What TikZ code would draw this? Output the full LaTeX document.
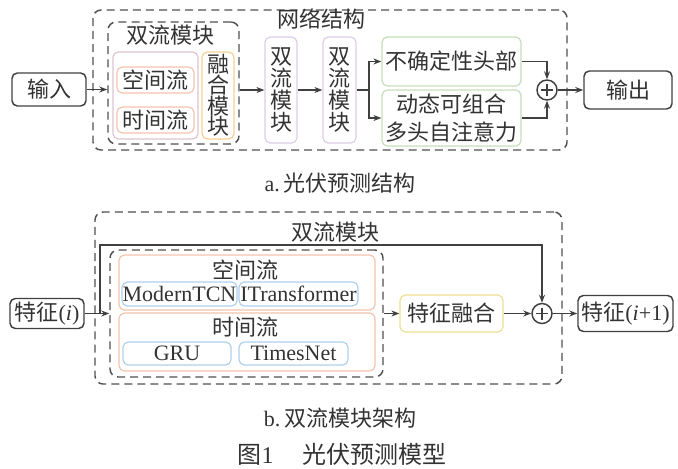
\documentclass[tikz,border=0pt]{standalone}
\usepackage{fontspec}
\setmainfont{Liberation Serif}
\newfontfamily\cjk{Noto Sans CJK SC}
\usetikzlibrary{arrows.meta,calc}
\definecolor{txt}{HTML}{333333}
\definecolor{dk}{HTML}{404040}
\definecolor{dsh}{HTML}{505050}
\definecolor{pinkc}{HTML}{DEC3D0}
\definecolor{orc}{HTML}{F2C4AC}
\definecolor{fusc}{HTML}{F5CF92}
\definecolor{lavc}{HTML}{DCCDE6}
\definecolor{grc}{HTML}{C6DDBA}
\definecolor{blc}{HTML}{AFD0EC}
\definecolor{yec}{HTML}{EEDF92}
\newcommand\fsz{\fontsize{16.5}{19}\selectfont}
\newcommand\fszv{\fontsize{16.5}{16.5}\selectfont}
\begin{document}
\begin{tikzpicture}[x=0.75pt,y=-0.75pt,
  sz/.style 2 args={minimum width=#1*0.75pt, minimum height=#2*0.75pt},
  box/.style={draw, rounded corners=4pt, line width=0.9pt, inner sep=0pt, align=center, text=txt, font=\fsz\cjk},
  darkbox/.style={box, draw=dk, line width=1.1pt},
  vbox/.style={box, font=\fszv\cjk},
  latin/.style={box, font=\fsz\rmfamily},
  dashbox/.style={draw=dsh, dash pattern=on 6pt off 3.8pt, line width=1.1pt, rounded corners=6pt, inner sep=0pt},
  lbl/.style={text=txt, font=\fsz\cjk, inner sep=0pt},
  arr/.style={draw=dk, line width=0.9pt, -{Stealth[length=6pt,width=4.5pt]}},
  ln/.style={draw=dk, line width=0.9pt},
  plus/.style={circle, draw=dk, line width=1.1pt, minimum size=20*0.75pt, inner sep=0pt}
]
\useasboundingbox (0,0) rectangle (678,468);

% ---------- part a ----------
\node[dashbox, sz={474}{140}] (outerA) at (330,80) {};
\node[lbl] (titleA) at (321,19) {网络结构};
\node[dashbox, sz={131}{122}] (innerA) at (173.5,83) {};
\node[lbl] (titleInA) at (170,35) {双流模块};
\node[box, draw=pinkc, sz={85}{87}] (pink) at (155.5,95.5) {};
\node[box, draw=orc, sz={77}{26}] (kj) at (155.5,80) {空间流};
\node[box, draw=orc, sz={77}{26}] (sj) at (155.5,120) {时间流};
\node[vbox, draw=fusc, sz={32}{87}, font=\fontsize{16.5}{15.5}\selectfont\cjk] (rh) at (218,95.5) {融\\合\\模\\块};
\node[vbox, draw=lavc, sz={32}{106}] (b1) at (281,90) {双\\流\\模\\块};
\node[vbox, draw=lavc, sz={33}{106}] (b2) at (339.5,90) {双\\流\\模\\块};
\node[box, draw=grc, sz={139}{49}] (bq) at (451.5,61.5) {不确定性头部};
\node[box, draw=grc, sz={139}{56}, font=\fontsize{16.5}{21}\selectfont\cjk] (dt) at (451.5,118) {动态可组合\\多头自注意力};
\node[plus] (p1) at (547,90) {};
\draw[dk, line width=0.8pt] ($(p1.center)+(-6,0)$) -- ($(p1.center)+(6,0)$);
\draw[dk, line width=0.8pt] ($(p1.center)+(0,-6)$) -- ($(p1.center)+(0,6)$);
\node[darkbox, sz={74}{33}] (in) at (49,89.5) {输入};
\node[darkbox, sz={88}{38}] (out) at (628,90) {输出};
\coordinate (brA) at (369,90);

\draw[arr] (in.east) -- (in.east -| innerA.west);
\draw[arr] (innerA.east |- b1.west) -- (b1.west);
\draw[arr] (b1.east) -- (b2.west);
\draw[ln] (b2.east) -- (brA);
\draw[arr] (brA) |- (bq.west);
\draw[arr] (brA) |- (dt.west);
\draw[arr] (bq.east) -| (p1.north);
\draw[arr] (dt.east) -| (p1.south);
\draw[arr] (p1.east) -- (out.west);

\node[lbl] (capA) at (340,183) {\rmfamily a.\,\cjk 光伏预测结构};

% ---------- part b ----------
\node[dashbox, sz={467}{172}] (outerB) at (328.5,298) {};
\node[lbl] (titleB) at (335,232) {双流模块};
\node[dashbox, sz={273}{127}] (innerB) at (246.5,313.5) {};
\node[box, draw=orc, sz={256}{55}] (kjB) at (247,282.5) {};
\node[lbl] (kjL) at (245,270) {空间流};
\node[latin, draw=blc, sz={115}{24}] (mtcn) at (179.5,294) {ModernTCN};
\node[latin, draw=blc, sz={119}{24}] (itr) at (298.5,294) {ITransformer};
\node[box, draw=orc, sz={256}{58}] (sjB) at (247,342) {};
\node[lbl] (sjL) at (245,327) {时间流};
\node[latin, draw=blc, sz={108}{23}] (gru) at (177,353.5) {GRU};
\node[latin, draw=blc, sz={109}{23}] (tn) at (293.5,353.5) {TimesNet};
\node[box, draw=yec, sz={103}{37}] (fuse) at (451.5,313.5) {特征融合};
\node[plus] (p2) at (542,313.5) {};
\draw[dk, line width=0.8pt] ($(p2.center)+(-6,0)$) -- ($(p2.center)+(6,0)$);
\draw[dk, line width=0.8pt] ($(p2.center)+(0,-6)$) -- ($(p2.center)+(0,6)$);
\node[darkbox, sz={74}{30}] (fi) at (47,313.5) {特征\rmfamily(\textit{i})};
\node[darkbox, sz={95}{36}] (fo) at (625.5,313.5) {特征\rmfamily(\textit{i}+1)};
\coordinate (sk) at (100,245);

\draw[arr] (fi.east) -- (fi.east -| innerB.west);
\draw[arr] (fi.east) -| (sk) -| (p2.north);
\draw[arr] (innerB.east |- fuse.west) -- (fuse.west);
\draw[arr] (fuse.east) -- (p2.west);
\draw[arr] (p2.east) -- (fo.west);

\node[lbl] (capB) at (340,418) {\rmfamily b.\,\cjk 双流模块架构};
\node[lbl, font=\fontsize{18}{20}\selectfont\cjk] (fig) at (342,454) {图\rmfamily 1\hspace{1.2em}\cjk 光伏预测模型};
\end{tikzpicture}
\end{document}
